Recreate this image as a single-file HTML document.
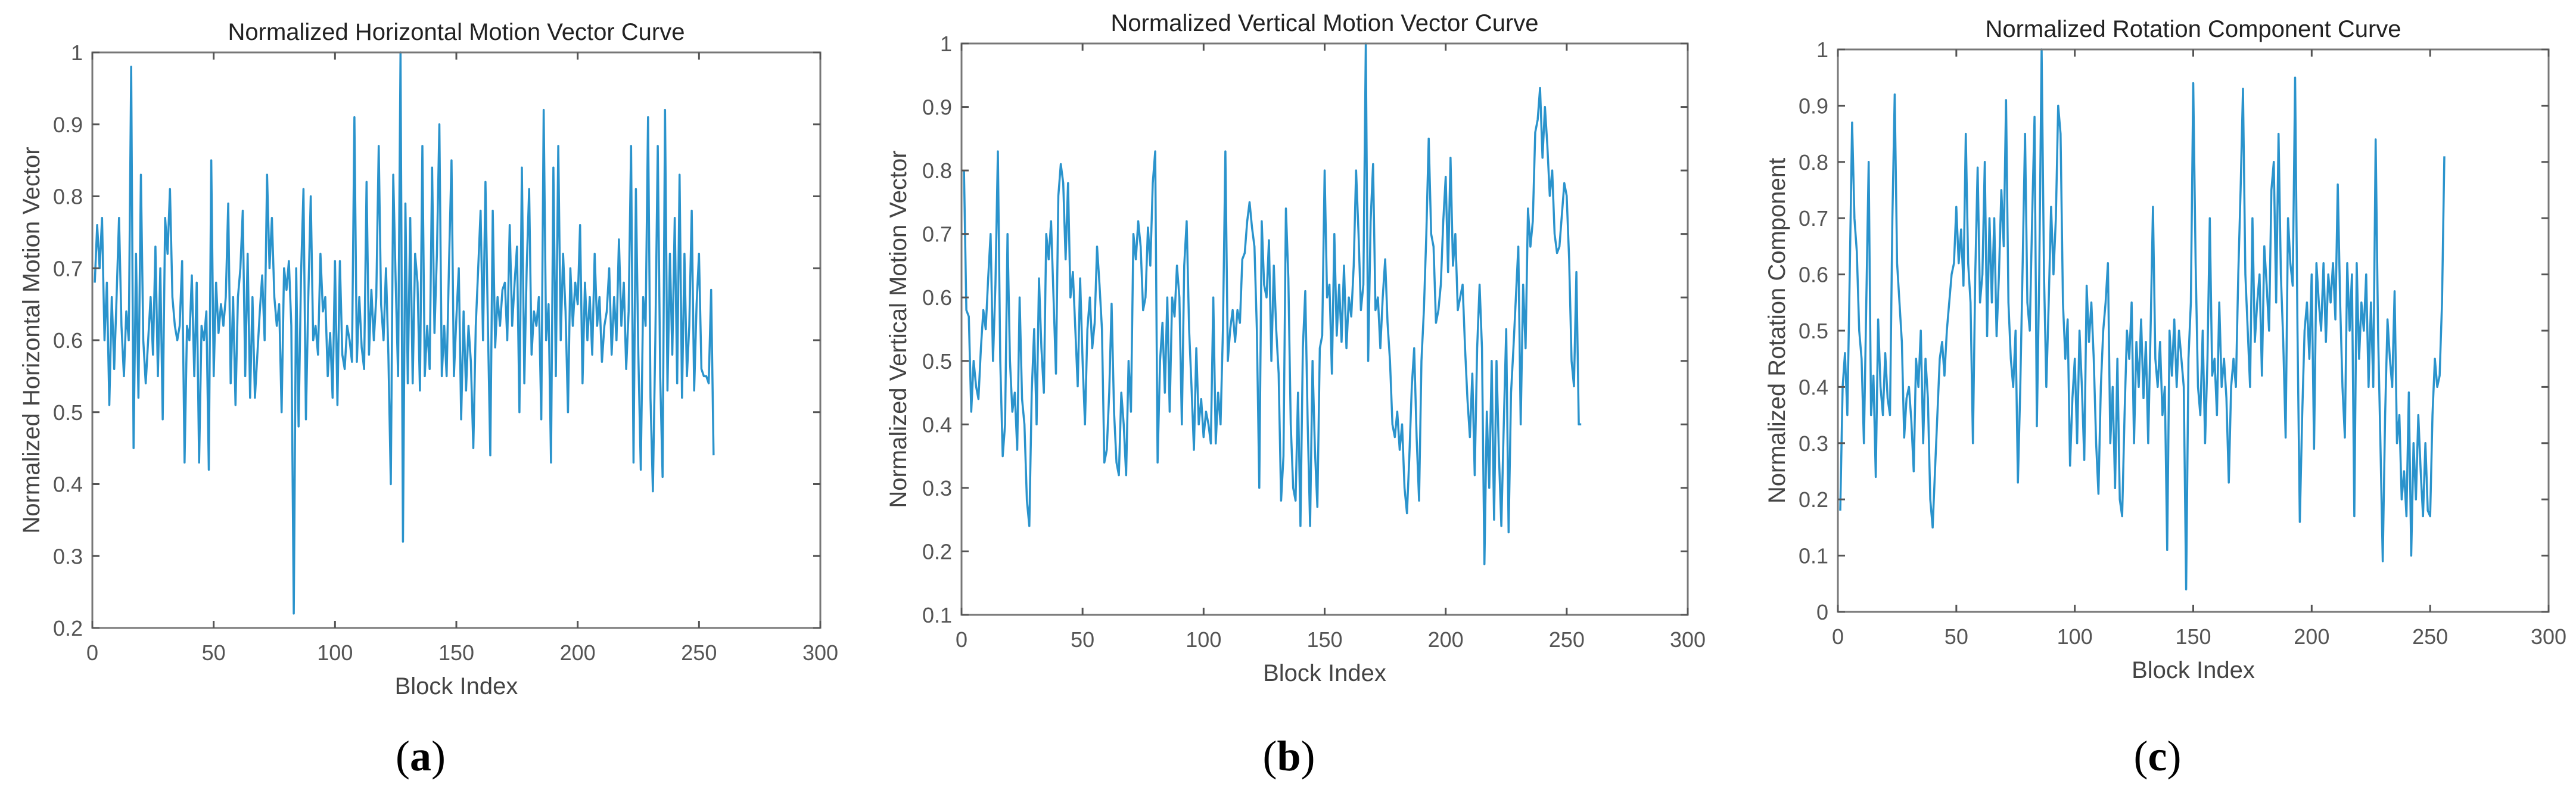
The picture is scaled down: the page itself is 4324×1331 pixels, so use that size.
<!DOCTYPE html>
<html><head><meta charset="utf-8"><style>
html,body{margin:0;padding:0;background:#fff;}
svg{display:block;}
text{font-family:"Liberation Sans",sans-serif;}
text.cap{font-family:"Liberation Serif",serif;}
</style></head><body>
<svg id="fig" width="4324" height="1331" viewBox="0 0 4324 1331" xmlns="http://www.w3.org/2000/svg"></svg>
<script>
const xTicks=[0,50,100,150,200,250,300];
const ticksA=[0.2,0.3,0.4,0.5,0.6,0.7,0.8,0.9,1];
const ticksB=[0.1,0.2,0.3,0.4,0.5,0.6,0.7,0.8,0.9,1];
const ticksC=[0,0.1,0.2,0.3,0.4,0.5,0.6,0.7,0.8,0.9,1];
const seriesA=[0.68,0.76,0.70,0.77,0.60,0.68,0.51,0.66,0.56,0.66,0.77,0.62,0.55,0.64,0.60,0.98,
0.45,0.72,0.52,0.83,0.60,0.54,0.60,0.66,0.58,0.73,0.55,0.70,0.49,0.77,0.72,0.81,
0.66,0.62,0.60,0.62,0.71,0.43,0.62,0.60,0.69,0.55,0.68,0.43,0.62,0.60,0.64,0.42,
0.85,0.55,0.68,0.61,0.65,0.62,0.66,0.79,0.54,0.66,0.51,0.66,0.70,0.78,0.55,0.72,
0.52,0.66,0.52,0.58,0.64,0.69,0.60,0.83,0.70,0.77,0.66,0.62,0.65,0.50,0.70,0.67,
0.71,0.62,0.22,0.70,0.48,0.69,0.81,0.49,0.66,0.80,0.60,0.62,0.58,0.72,0.64,0.66,
0.55,0.61,0.52,0.71,0.51,0.71,0.58,0.56,0.62,0.60,0.57,0.91,0.57,0.66,0.59,0.56,
0.82,0.58,0.67,0.60,0.66,0.87,0.65,0.60,0.70,0.58,0.40,0.83,0.68,0.55,1.00,0.32,
0.79,0.54,0.77,0.54,0.72,0.68,0.53,0.87,0.55,0.62,0.56,0.84,0.61,0.72,0.90,0.55,
0.62,0.55,0.71,0.85,0.55,0.63,0.70,0.49,0.64,0.53,0.62,0.57,0.45,0.62,0.70,0.78,
0.60,0.82,0.62,0.44,0.78,0.59,0.66,0.62,0.67,0.68,0.60,0.76,0.62,0.68,0.73,0.50,
0.84,0.54,0.70,0.81,0.58,0.64,0.62,0.66,0.49,0.92,0.60,0.65,0.43,0.84,0.55,0.87,
0.60,0.72,0.64,0.50,0.70,0.62,0.68,0.65,0.76,0.54,0.68,0.60,0.66,0.58,0.72,0.62,
0.66,0.57,0.62,0.64,0.70,0.58,0.66,0.60,0.74,0.62,0.68,0.56,0.64,0.87,0.43,0.81,
0.58,0.42,0.66,0.62,0.91,0.52,0.39,0.60,0.87,0.55,0.41,0.92,0.53,0.72,0.58,0.77,
0.54,0.83,0.52,0.72,0.55,0.62,0.78,0.53,0.65,0.72,0.56,0.55,0.55,0.54,0.67,0.44];
const seriesB=[0.80,0.58,0.57,0.42,0.50,0.46,0.44,0.52,0.58,0.55,0.63,0.70,0.50,0.62,0.83,0.50,
0.35,0.40,0.70,0.50,0.42,0.45,0.36,0.60,0.44,0.40,0.28,0.24,0.45,0.55,0.40,0.63,
0.52,0.45,0.70,0.66,0.72,0.60,0.48,0.76,0.81,0.78,0.66,0.78,0.60,0.64,0.55,0.46,
0.63,0.50,0.40,0.55,0.60,0.52,0.56,0.68,0.62,0.55,0.34,0.36,0.45,0.59,0.42,0.34,
0.32,0.45,0.40,0.32,0.50,0.42,0.70,0.66,0.72,0.68,0.58,0.60,0.71,0.65,0.78,0.83,
0.34,0.50,0.56,0.45,0.60,0.42,0.60,0.57,0.65,0.60,0.40,0.65,0.72,0.55,0.46,0.36,
0.52,0.40,0.44,0.38,0.42,0.40,0.37,0.60,0.37,0.45,0.40,0.55,0.83,0.50,0.55,0.58,
0.53,0.58,0.56,0.66,0.67,0.72,0.75,0.71,0.68,0.55,0.30,0.72,0.62,0.60,0.69,0.50,
0.65,0.55,0.48,0.28,0.35,0.74,0.63,0.40,0.30,0.28,0.45,0.24,0.52,0.61,0.40,0.24,
0.50,0.36,0.27,0.52,0.54,0.80,0.60,0.62,0.48,0.70,0.54,0.62,0.53,0.65,0.52,0.60,
0.57,0.65,0.80,0.70,0.58,0.62,1.00,0.50,0.72,0.81,0.58,0.60,0.52,0.60,0.66,0.56,
0.50,0.40,0.38,0.42,0.36,0.40,0.30,0.26,0.35,0.46,0.52,0.38,0.28,0.50,0.58,0.70,
0.85,0.70,0.68,0.56,0.58,0.62,0.72,0.79,0.64,0.82,0.65,0.70,0.58,0.60,0.62,0.52,
0.44,0.38,0.48,0.32,0.52,0.62,0.52,0.18,0.42,0.30,0.50,0.25,0.50,0.35,0.24,0.40,
0.55,0.23,0.45,0.52,0.60,0.68,0.40,0.62,0.52,0.74,0.68,0.72,0.86,0.88,0.93,0.82,
0.90,0.84,0.76,0.80,0.70,0.67,0.68,0.73,0.78,0.76,0.66,0.50,0.46,0.64,0.40,0.40];
const seriesC=[0.18,0.40,0.46,0.35,0.60,0.87,0.70,0.64,0.50,0.45,0.30,0.55,0.80,0.35,0.42,0.24,
0.52,0.40,0.35,0.46,0.38,0.35,0.70,0.92,0.62,0.55,0.48,0.31,0.38,0.40,0.34,0.25,
0.45,0.40,0.50,0.30,0.45,0.38,0.20,0.15,0.25,0.35,0.45,0.48,0.42,0.50,0.55,0.60,
0.62,0.72,0.62,0.68,0.58,0.85,0.62,0.55,0.30,0.60,0.79,0.55,0.60,0.80,0.49,0.70,
0.55,0.70,0.49,0.60,0.75,0.65,0.91,0.55,0.45,0.40,0.50,0.23,0.40,0.62,0.85,0.55,
0.50,0.70,0.88,0.33,0.60,1.00,0.60,0.40,0.55,0.72,0.60,0.70,0.90,0.85,0.55,0.45,
0.52,0.26,0.38,0.45,0.30,0.50,0.40,0.27,0.58,0.48,0.55,0.45,0.30,0.21,0.40,0.50,
0.55,0.62,0.30,0.40,0.22,0.45,0.20,0.17,0.35,0.50,0.45,0.55,0.30,0.48,0.40,0.52,
0.38,0.48,0.30,0.50,0.72,0.45,0.40,0.48,0.35,0.40,0.11,0.50,0.42,0.52,0.40,0.50,
0.45,0.40,0.04,0.45,0.55,0.94,0.62,0.40,0.35,0.50,0.30,0.45,0.70,0.42,0.45,0.35,
0.55,0.40,0.45,0.38,0.23,0.40,0.45,0.40,0.60,0.75,0.93,0.60,0.50,0.40,0.70,0.48,
0.55,0.60,0.42,0.65,0.58,0.50,0.75,0.80,0.55,0.85,0.60,0.48,0.31,0.70,0.62,0.58,
0.95,0.50,0.16,0.35,0.50,0.55,0.45,0.60,0.29,0.62,0.55,0.50,0.62,0.48,0.60,0.55,
0.62,0.52,0.76,0.55,0.40,0.31,0.62,0.50,0.60,0.17,0.62,0.45,0.55,0.50,0.60,0.40,
0.55,0.40,0.84,0.50,0.30,0.09,0.35,0.52,0.45,0.40,0.57,0.30,0.35,0.20,0.25,0.17,
0.39,0.10,0.30,0.20,0.35,0.25,0.17,0.30,0.18,0.17,0.35,0.45,0.40,0.42,0.55,0.81];

const NS='http://www.w3.org/2000/svg';
const svg=document.getElementById('fig');
function mk(tag,attrs,parent){const e=document.createElementNS(NS,tag);for(const k in attrs)e.setAttribute(k,attrs[k]);(parent||svg).appendChild(e);return e;}

const panels=[
 {id:'a',x0:155,x1:1377,y0:88,y1:1054,ymin:0.2,ymax:1,ticks:ticksA,data:seriesA,title:'Normalized Horizontal Motion Vector Curve',ylab:'Normalized Horizontal Motion Vector',ylx:66,cap:'a'},
 {id:'b',x0:1614,x1:2833,y0:73,y1:1032,ymin:0.1,ymax:1,ticks:ticksB,data:seriesB,title:'Normalized Vertical Motion Vector Curve',ylab:'Normalized Vertical Motion Vector',ylx:1521,cap:'b'},
 {id:'c',x0:3085,x1:4278,y0:83,y1:1027,ymin:0,ymax:1,ticks:ticksC,data:seriesC,title:'Normalized Rotation Component Curve',ylab:'Normalized Rotation Component',ylx:2996,cap:'c'}
];

panels.forEach(p=>{
  const g=mk('g',{});
  
  
  const sx=v=>p.x0+(v-0)/(300-0)*(p.x1-p.x0);
  const sy=v=>p.y1-(v-p.ymin)/(p.ymax-p.ymin)*(p.y1-p.y0);
  let d='';
  p.data.forEach((v,i)=>{d+=(i?'L':'M')+sx(i+1).toFixed(1)+' '+sy(v).toFixed(1);});
  const line=mk('path',{d:d,fill:'none',stroke:'#2a93cc','stroke-width':3.5,'stroke-linejoin':'round'},g);
  
  
  const box=mk('rect',{x:p.x0,y:p.y0,width:p.x1-p.x0,height:p.y1-p.y0,fill:'none',stroke:'#777','stroke-width':3},g);
  
  
  xTicks.forEach(t=>{
    const x=sx(t);
    mk('line',{x1:x,y1:p.y1,x2:x,y2:p.y1-12,stroke:'#555','stroke-width':3},g);
    mk('line',{x1:x,y1:p.y0,x2:x,y2:p.y0+12,stroke:'#555','stroke-width':3},g);
    const tx=mk('text',{x:x,y:p.y1+54,'text-anchor':'middle','font-size':36,fill:'#555'},g);
    tx.textContent=String(t);
    
    
  });
  p.ticks.forEach(t=>{
    const y=sy(t);
    mk('line',{x1:p.x0,y1:y,x2:p.x0+12,y2:y,stroke:'#555','stroke-width':3},g);
    mk('line',{x1:p.x1,y1:y,x2:p.x1-12,y2:y,stroke:'#555','stroke-width':3},g);
    const ty=mk('text',{x:p.x0-16,y:y+13,'text-anchor':'end','font-size':36,fill:'#555'},g);
    ty.textContent=String(t);
    
    
  });
  const cx=(p.x0+p.x1)/2;
  const tt=mk('text',{x:cx,y:p.y0-21,'text-anchor':'middle','font-size':40,fill:'#222'},g);
  tt.textContent=p.title;
  
  
  const xl=mk('text',{x:cx,y:p.y1+111,'text-anchor':'middle','font-size':40,fill:'#444'},g);
  xl.textContent='Block Index';
  
  
  const ym=(p.y0+p.y1)/2;
  const yl=mk('text',{x:p.ylx,y:ym,'text-anchor':'middle','font-size':40,fill:'#444',transform:'rotate(-90 '+p.ylx+' '+ym+')'},g);
  yl.textContent=p.ylab;
  
  
  const cap=mk('text',{x:cx-60,y:1293,'text-anchor':'middle','font-size':72,fill:'#000','class':'cap'},g);
  cap.innerHTML='(<tspan font-weight="bold">'+p.cap+'</tspan>)';
  
  
});
</script>
</body></html>
